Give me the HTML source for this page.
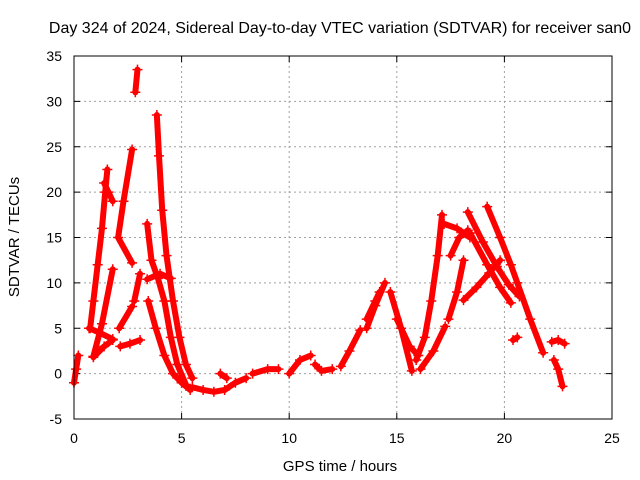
<!DOCTYPE html>
<html><head><meta charset="utf-8"><style>
body{margin:0;background:#fff}
svg{display:block;font-family:"Liberation Sans",sans-serif}
</style></head><body>
<svg id="chart" width="640" height="480">
<rect width="640" height="480" fill="#fff"/>
<text x="340" y="33" font-size="16" text-anchor="middle">Day 324 of 2024, Sidereal Day-to-day VTEC variation (SDTVAR) for receiver san0</text>
<g id="grid"></g>
<g id="ticks"></g>
<g id="marks"></g>
<rect x="74" y="56" width="538" height="363" fill="none" stroke="#000" stroke-width="1"/>
<text x="340" y="471" font-size="15" text-anchor="middle">GPS time / hours</text>
<text transform="translate(19,237) rotate(-90)" font-size="15" text-anchor="middle">SDTVAR / TECUs</text>
</svg>
<script>
const xTicks=[0,5,10,15,20,25];
const yTicks=[-5,0,5,10,15,20,25,30,35];
const tracks=[
[[0,-1],[0.1,0.5],[0.2,2]],
[[0.75,5],[0.9,8],[1.1,12],[1.3,16],[1.45,20],[1.55,22.5]],
[[1.4,21],[1.6,20],[1.8,19]],
[[0.7,5],[1.2,4.5],[1.8,3.8]],
[[0.9,1.9],[1.3,5.5],[1.8,11.5]],
[[0.9,1.8],[1.4,3],[1.8,3.7]],
[[2.1,5],[2.7,7.4]],
[[2.7,12.2],[2.05,15],[2.3,19],[2.7,24.7]],
[[2.15,3],[2.6,3.3],[3.07,3.7]],
[[2.85,31],[2.95,33.5]],
[[2.8,8],[3.07,11]],
[[3.85,28.5],[3.95,24],[4.1,18],[4.3,13],[4.6,8],[4.9,4],[5.2,1],[5.5,-0.5]],
[[3.4,16.5],[3.6,12.5],[3.9,10.5],[4.2,8],[4.5,4],[4.8,1],[5.2,-1.2]],
[[3.45,8],[3.8,5],[4.2,2],[4.6,0],[5,-1],[5.4,-1.8]],
[[3.4,10.4],[4.0,11],[4.5,10.5]],
[[5.5,-1.5],[6,-1.8],[6.5,-2],[7,-1.8],[7.5,-1],[8,-0.5]],
[[6.8,0],[7.1,-0.5]],
[[8.3,0],[9,0.5],[9.5,0.5]],
[[10,0],[10.5,1.5],[11,2]],
[[11.2,1],[11.5,0.3],[12,0.5]],
[[12.4,0.8],[12.8,2.5],[13.3,4.8]],
[[13.6,5],[14,7.5],[14.45,10]],
[[13.6,6],[14,8],[14.2,9]],
[[14.7,9],[15.2,5],[15.7,0.3]],
[[15,6],[15.6,3],[16,2]],
[[15.9,1.5],[16.3,4],[16.6,8],[16.9,13],[17.1,17.5]],
[[16.1,0.5],[16.7,2.5],[17.25,5.2]],
[[17.4,6],[17.8,9],[18.1,12.5]],
[[17.5,13],[17.9,15],[18.3,15.8]],
[[17.2,16.5],[17.8,16],[18.4,15]],
[[18.1,8.1],[18.7,9.5],[19.3,11.1],[19.8,12.5]],
[[18.4,15.5],[19.2,12],[19.8,9.5],[20.3,7.8]],
[[18.3,17.8],[19,14.5],[19.65,11.8],[20.2,9.8],[20.7,8.5]],
[[19.2,18.4],[19.8,15],[20.3,12],[20.6,10],[21.2,6],[21.8,2.3]],
[[20.4,3.7],[20.6,4]],
[[22.2,3.5],[22.5,3.7],[22.8,3.3]],
[[22.3,1.5],[22.5,0.5],[22.7,-1.4]]
];
const X=v=>74+v*538/25, Y=v=>419-(v+5)*363/40;
const NS='http://www.w3.org/2000/svg';
const mk=(t,a,p)=>{const e=document.createElementNS(NS,t);for(const k in a)e.setAttribute(k,a[k]);p.appendChild(e);return e;};
const grid=document.getElementById('grid'),ticks=document.getElementById('ticks'),marks=document.getElementById('marks');
xTicks.forEach(v=>{
 if(v>0&&v<25){const l=mk('line',{x1:X(v),x2:X(v),y1:56,y2:419,stroke:'#a0a0a0','stroke-dasharray':'2,3'},grid);
 
 }
 mk('line',{x1:X(v),x2:X(v),y1:419,y2:413,stroke:'#000'},ticks);
 mk('line',{x1:X(v),x2:X(v),y1:56,y2:62,stroke:'#000'},ticks);
 const t=mk('text',{x:X(v),y:443,'font-size':14,'text-anchor':'middle'},ticks);t.textContent=v;
 
 
});
yTicks.forEach(v=>{
 if(v>-5&&v<35){const l=mk('line',{x1:74,x2:612,y1:Y(v),y2:Y(v),stroke:'#a0a0a0','stroke-dasharray':'2,3'},grid);
 
 }
 mk('line',{x1:74,x2:80,y1:Y(v),y2:Y(v),stroke:'#000'},ticks);
 mk('line',{x1:612,x2:606,y1:Y(v),y2:Y(v),stroke:'#000'},ticks);
 const t=mk('text',{x:62,y:Y(v)+5,'font-size':14,'text-anchor':'end'},ticks);t.textContent=v;
 
 
});
tracks.forEach(tr=>{
 const pl=mk('polyline',{points:tr.map(p=>X(p[0])+','+Y(p[1])).join(' '),fill:'none',stroke:'#f00','stroke-width':6,'stroke-linejoin':'round','stroke-linecap':'round'},marks);
 
 
 tr.forEach(p=>{const x=X(p[0]),y=Y(p[1]);
  const m=mk('path',{d:`M${x-5},${y}H${x+5}M${x},${y-5}V${y+5}`,stroke:'#f00','stroke-width':1.5},marks);
  
  
 });
});
</script>
</body></html>
